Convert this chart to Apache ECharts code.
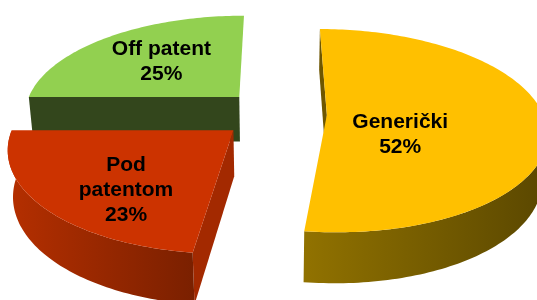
<!DOCTYPE html>
<html>
<head>
<meta charset="utf-8">
<script src="https://cdn.jsdelivr.net/npm/echarts@6/dist/echarts.min.js"></script>
<style>
  html, body { margin: 0; padding: 0; background: #fff; }
  #chart { width: 537px; height: 300px; }
</style>
</head>
<body>
<div id="chart"></div>
<script>
// slices, clockwise from 12 o'clock
var categories = ['Generički', 'Pod\npatentom', 'Off patent'];
var shares = [52, 23, 25];

var topColors = ['#FFC000', '#CC3300', '#92D050'];
var wallColors = [['#917200', '#5A4700'], ['#B52F00', '#7A2000'], ['#44592A', '#384C1F']];
var edgeColors = ['#6E5600', '#A32900', '#33461C'];
var explode = [0.24, 0.25, 0.24];
// label anchor per slice: [radius, angle in degrees] from the slice apex
var labelAnchor = [[0.375, 121], [0.68, 219], [0.57, 315]];

// fake 3d view
var view = { cx: 275, cy: 113.4, u: 216, s: 0.457, c: 0.891, t: 0.155, h: 0.24 };

function proj(X, Z, Y) {
  var w = 1 + (Z * view.c - Y * view.s) * view.t / view.c;
  var yc = Y * view.c + Z * view.s;
  return [view.cx + view.u * X / w, view.cy - view.u * yc / w];
}

var total = shares.reduce(function (a, b) { return a + b; }, 0);
var slices = [];
var acc = 0;
shares.forEach(function (v, i) {
  var a0 = acc / total * Math.PI * 2;
  acc += v;
  var a1 = acc / total * Math.PI * 2;
  var m = (a0 + a1) / 2;
  slices.push({
    i: i, a0: a0, a1: a1,
    ox: explode[i] * Math.sin(m),
    oz: explode[i] * Math.cos(m)
  });
});

// back to front
var order = slices.slice().sort(function (a, b) { return b.oz - a.oz; }).map(function (d) { return [d.i]; });

function arc(sl, from, to, Y) {
  var pts = [];
  var n = Math.max(2, Math.ceil((to - from) / 0.02));
  for (var k = 0; k <= n; k++) {
    var th = from + (to - from) * k / n;
    pts.push(proj(sl.ox + Math.sin(th), sl.oz + Math.cos(th), Y));
  }
  return pts;
}

function radialWall(sl, ang, isStart) {
  // outward normal of the flat side
  var nx = isStart ? -Math.cos(ang) : Math.cos(ang);
  var nz = isStart ? Math.sin(ang) : -Math.sin(ang);
  var camZ = -view.c / view.t * view.c;
  var dot = nx * (0 - sl.ox) + nz * (camZ - sl.oz);
  if (dot <= 0.2) return null; // nearly edge-on sides are left out
  var ex = sl.ox + Math.sin(ang), ez = sl.oz + Math.cos(ang);
  return [proj(sl.ox, sl.oz, 0), proj(ex, ez, 0), proj(ex, ez, -view.h), proj(sl.ox, sl.oz, -view.h)];
}

function renderItem(params, api) {
  var i = api.value(0);
  var sl = slices[i];
  var children = [];
  [[sl.a0, true], [sl.a1, false]].forEach(function (p) {
    var pts = radialWall(sl, p[0], p[1]);
    if (pts) children.push({ type: 'polygon', shape: { points: pts }, style: { fill: edgeColors[i] } });
  });
  // curved front wall
  var f0 = Math.max(sl.a0, Math.PI / 2), f1 = Math.min(sl.a1, Math.PI * 1.5);
  if (f1 > f0) {
    var up = arc(sl, f0, f1, 0);
    var down = arc(sl, f0, f1, -view.h).reverse();
    children.push({
      type: 'polygon',
      shape: { points: up.concat(down) },
      style: {
        fill: {
          type: 'linear', x: 0, y: 0, x2: 1, y2: 0,
          colorStops: [{ offset: 0, color: wallColors[i][0] }, { offset: 1, color: wallColors[i][1] }]
        }
      }
    });
  }
  // top face
  var top = [proj(sl.ox, sl.oz, 0)].concat(arc(sl, sl.a0, sl.a1, 0));
  children.push({ type: 'polygon', shape: { points: top }, style: { fill: topColors[i] } });
  // label
  var la = labelAnchor[i][1] * Math.PI / 180;
  var lp = proj(sl.ox + labelAnchor[i][0] * Math.sin(la), sl.oz + labelAnchor[i][0] * Math.cos(la), 0);
  children.push({
    type: 'text', x: lp[0], y: lp[1],
    style: {
      text: categories[i] + '\n' + shares[i] + '%',
      fill: '#000', fontSize: 21, fontWeight: 'bold', fontFamily: 'Liberation Sans',
      align: 'center', verticalAlign: 'middle', lineHeight: 25
    }
  });
  return { type: 'group', children: children };
}

var chart = echarts.init(document.getElementById('chart'), null, { renderer: 'canvas' });
chart.setOption({
  animation: false,
  series: [{
    type: 'custom',
    coordinateSystem: 'none',
    renderItem: renderItem,
    data: order
  }]
});
</script>
</body>
</html>
